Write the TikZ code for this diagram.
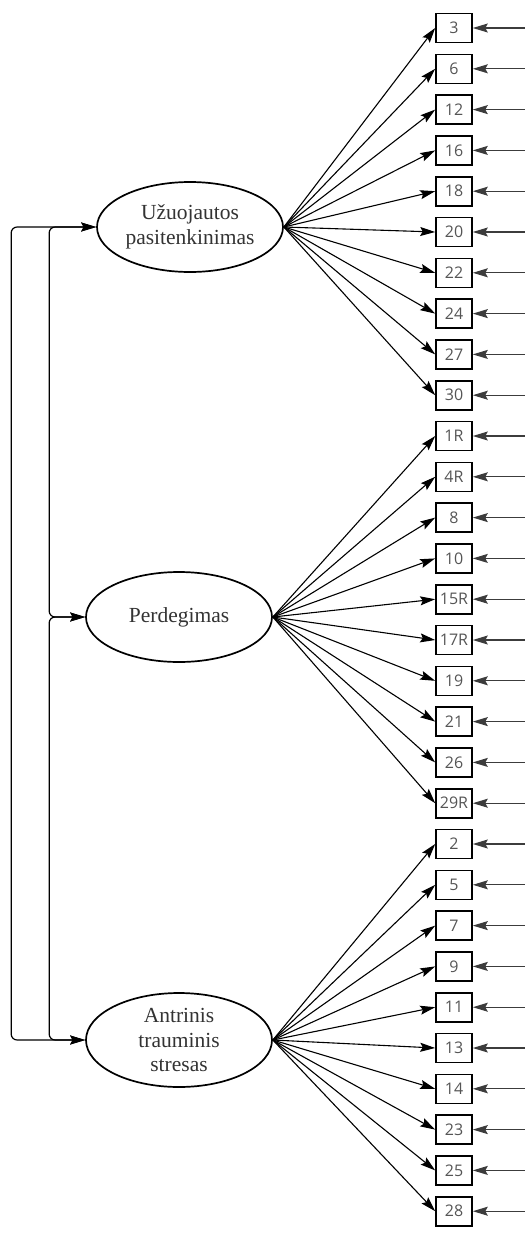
\documentclass[tikz,border=0pt]{standalone}
\usepackage{fontspec}
\setmainfont{Liberation Serif}
\newfontfamily\itemfont{Open Sans}
\usetikzlibrary{shapes.geometric,arrows.meta}
\definecolor{itemgray}{RGB}{85,85,85}
\definecolor{errline}{RGB}{60,60,60}
\begin{document}
\begin{tikzpicture}[x=1pt,y=-1pt,
  latent/.style={ellipse,draw,line width=1.7pt,minimum width=186pt,minimum height=90pt,inner sep=0pt},
  lbl/.style={align=center,font=\fontsize{21.5}{24.5}\selectfont,text=black!80},
  item/.style={draw,line width=1.6pt,minimum width=36pt,minimum height=29pt,inner sep=0pt,
    font=\itemfont\fontsize{16}{18}\selectfont,text=itemgray},
  tip/.tip={Stealth[length=15pt,width=9pt,inset=2.5pt]},
  load/.style={-tip,line width=1.1pt},
  err/.style={-tip,line width=1.2pt,draw=errline},
  cov/.style={tip-tip,line width=1.2pt,rounded corners=6pt}]
\useasboundingbox (0,0) rectangle (525,1251);

% observed indicators with their error arrows
\foreach \lab [count=\i from 0] in {3,6,12,16,18,20,22,24,27,30,
    1R,4R,8,10,15R,17R,19,21,26,29R,
    2,5,7,9,11,13,14,23,25,28}{
  \node[item] (b\i) at (454,28+40.8*\i) {\lab};
  \coordinate (e\i) at (525,28+40.8*\i);
  \draw[err] (e\i) -- (b\i.east);
}

% latent factors
\node[latent] (U) at (190,227) {};
\node[lbl] at (U.center) {Užuojautos\\pasitenkinimas};
\node[latent] (P) at (179,617) {};
\node[lbl] at (P.center) {Perdegimas};
\node[latent,minimum height=94pt] (A) at (179,1040) {};
\node[lbl] at (A.center) {Antrinis\\trauminis\\stresas};

% factor loadings
\foreach \i in {0,...,9}{\draw[load] (U.east) -- (b\i.west);}
\foreach \i in {10,...,19}{\draw[load] (P.east) -- (b\i.west);}
\foreach \i in {20,...,29}{\draw[load] (A.east) -- (b\i.west);}

% factor covariances
\draw[cov] (U.west) -- ++(-85,0) |- (A.west);
\draw[cov] (U.west) -- ++(-47,0) |- (P.west);
\draw[cov] (P.west) -- ++(-36,0) |- (A.west);
\end{tikzpicture}
\end{document}
